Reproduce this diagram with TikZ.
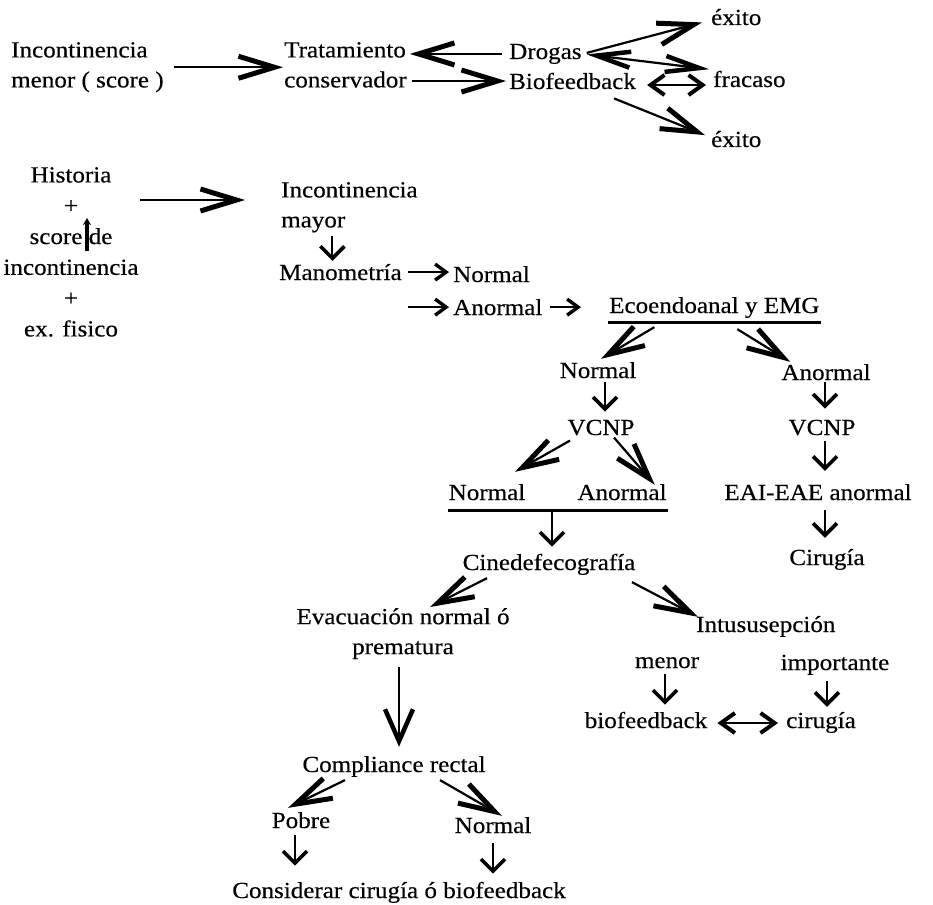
\documentclass[tikz,border=0pt]{standalone}
\usepackage{fontspec}
\setmainfont{Liberation Serif}[FakeStretch=1.09,FakeBold=0.4]
\usetikzlibrary{arrows.meta}

\begin{document}
\begin{tikzpicture}[x=1pt,y=-1pt,
    every node/.style={font=\fontsize{23}{30}\selectfont,inner sep=1pt},
    bigarr/.style={line width=2.2pt,-{Straight Barb[length=36pt,width=22pt,line width=5pt]}},
    longarr/.style={line width=2.2pt,-{Straight Barb[length=32pt,width=28pt,line width=4.5pt]}},
    midarr/.style={line width=2pt,-{Straight Barb[length=12pt,width=24pt,line width=3.6pt]}},
    smallarr/.style={line width=1.8pt,-{Straight Barb[length=11pt,width=16pt,line width=3.4pt]}},
    dblarr/.style={line width=1.8pt,{Straight Barb[length=14pt,width=20pt,line width=4pt]}-{Straight Barb[length=14pt,width=20pt,line width=4pt]}},
    twinarr/.style={line width=2.2pt,{Straight Barb[length=34pt,width=16pt,line width=4.5pt]}-{Straight Barb[length=34pt,width=16pt,line width=4.5pt]}},
    barline/.style={line width=3pt}]
  \useasboundingbox (0,0) rectangle (933,904);

  % Incontinencia menor: tratamiento conservador
  \node[anchor=north west,align=left] (minor) at (10,41) {Incontinencia\\menor ( score )};
  \node[anchor=north west,align=left] (trat) at (283,41) {Tratamiento\\conservador};
  \node[anchor=base west] (drog) at (508,59) {Drogas};
  \node[anchor=base west] (biof) at (508,89) {Biofeedback};
  \node[anchor=base west] (exi1) at (710,25) {éxito};
  \node[anchor=base west] (frac) at (712,87) {fracaso};
  \node[anchor=base west] (exi2) at (710,147) {éxito};

  \draw[bigarr,shorten <=9pt] (minor.east) -- (minor.east -| trat.west);
  \draw[bigarr,shorten <=6pt,shorten >=2pt] (drog.west) -- (drog.west -| trat.east);
  \draw[bigarr,shorten <=4pt,shorten >=2pt] (trat.east |- biof.west) -- (biof.west);
  \draw[bigarr,shorten <=4pt] (drog.east) -- ([xshift=-8pt,yshift=4pt]exi1.south west);
  \draw[twinarr,shorten <=4pt,shorten >=3pt] (drog.east) -- (frac.north west);
  \draw[dblarr] ([xshift=10pt,yshift=-4pt]biof.east) -- ([xshift=-6pt,yshift=-4pt]biof.east -| frac.west);
  \draw[bigarr] ([xshift=-23pt,yshift=-8pt]biof.south east) -- ([xshift=-5pt,yshift=4pt]exi2.west);

  % Incontinencia mayor
  \node[anchor=north,align=center,font=\fontsize{23}{30.8}\selectfont] (hist) at (71,166)
    {Historia\\+\\score de\\incontinencia\\+\\ex. fisico};
  \coordinate (blot) at (87,251);
  \draw[line width=4pt,-{Stealth[length=7pt,width=8pt]}] (blot) -- ([yshift=33pt]blot);

  \node[anchor=north west,align=left] (imay) at (280,181) {Incontinencia\\mayor};
  \node[anchor=base west] (mano) at (278,280) {Manometría};
  \node[anchor=base west] (norm0) at (452,282) {Normal};
  \node[anchor=base west] (anor0) at (452,315) {Anormal};
  \node[anchor=base west] (eco) at (608,313) {Ecoendoanal y EMG};

  \draw[bigarr] ([yshift=-34pt]hist.north east) -- ([xshift=-35pt,yshift=-34pt]hist.north east -| imay.west);
  \draw[midarr,shorten <=2pt,shorten >=2pt] ([xshift=-8pt]mano.north |- imay.south) -- ([xshift=-8pt]mano.north);
  \draw[smallarr,shorten <=5pt,shorten >=3pt] (mano.east) -- (mano.east -| norm0.west);
  \draw[smallarr,shorten <=5pt,shorten >=3pt] (mano.east |- anor0.west) -- (anor0.west);
  \draw[smallarr,shorten <=6pt,shorten >=27pt] (anor0.east) -- (anor0.east -| eco.west);
  \draw[barline] ([yshift=-3pt]eco.south west) -- ([yshift=-3pt]eco.south east);

  % Ecoendoanal y EMG
  \node[anchor=base] (nrm1) at (598,378) {Normal};
  \node[anchor=base] (ano1) at (826,380) {Anormal};
  \node[anchor=base] (vc1) at (601,435) {VCNP};
  \node[anchor=base] (vc2) at (822,435) {VCNP};
  \node[anchor=base] (nrm2) at (487,500) {Normal};
  \node[anchor=base] (ano2) at (622,500) {Anormal};
  \node[anchor=base] (eai) at (818,500) {EAI-EAE anormal};
  \node[anchor=base] (cir) at (827,565) {Cirugía};

  \draw[bigarr] ([xshift=-60pt,yshift=-8pt]eco.south) -- ([xshift=3pt,yshift=2pt]nrm1.north);
  \draw[bigarr] ([xshift=23pt,yshift=-10pt]eco.south) -- ([xshift=10pt,yshift=1pt]ano1.north west);
  \draw[midarr,shorten <=3pt,shorten >=7pt] ([xshift=4pt]vc1.north |- nrm1.south) -- ([xshift=4pt]vc1.north);
  \draw[midarr,shorten <=1pt,shorten >=10pt] ([xshift=3pt]vc2.north |- ano1.south) -- ([xshift=3pt]vc2.north);
  \draw[midarr,shorten <=4pt,shorten >=12pt] ([xshift=3pt]vc2.south) -- ([xshift=3pt]vc2.south |- eai.north);
  \draw[midarr,shorten <=9pt,shorten >=10pt] ([xshift=-2pt]cir.north |- eai.south) -- ([xshift=-2pt]cir.north);
  \draw[bigarr] ([xshift=-31pt,yshift=-4pt]vc1.south) -- ([xshift=28pt,yshift=11pt]nrm2.north);
  \draw[bigarr] ([xshift=13pt,yshift=-1pt]vc1.south) -- ([xshift=-13pt,yshift=-2pt]ano2.north east);
  \draw[barline] ([yshift=-9pt]nrm2.south west) coordinate (barL) -- ([yshift=-9pt]nrm2.south west -| ano2.south east);

  % Cinedefecografia
  \node[anchor=base] (cine) at (549,570) {Cinedefecografía};
  \node[anchor=north,align=center] (evac) at (403,607) {Evacuación normal ó\\prematura};
  \node[anchor=base west] (intu) at (695,632) {Intususepción};
  \node[anchor=base] (meno) at (667,668) {menor};
  \node[anchor=base] (impo) at (835,670) {importante};
  \node[anchor=base] (bio) at (646,728) {biofeedback};
  \node[anchor=base] (cirg) at (821,728) {cirugía};

  \draw[midarr,shorten >=6pt] ([xshift=3pt]cine.north |- barL) -- ([xshift=3pt]cine.north);
  \draw[bigarr] ([xshift=-62pt,yshift=-2pt]cine.south) -- ([xshift=27pt]evac.north);
  \draw[bigarr] ([xshift=83pt,yshift=-6pt]cine.south) -- ([xshift=3pt,yshift=-2pt]intu.north west);
  \draw[midarr,shorten <=5pt,shorten >=6pt] ([xshift=-2pt]meno.south) -- ([xshift=-2pt]meno.south |- bio.north);
  \draw[midarr,shorten <=5pt,shorten >=4pt] ([xshift=-8pt]impo.south) -- ([xshift=-8pt]impo.south |- cirg.north);
  \draw[dblarr] ([xshift=9pt,yshift=-3pt]bio.east) -- ([xshift=-7pt,yshift=-3pt]bio.east -| cirg.west);

  % Compliance rectal
  \node[anchor=base] (comp) at (394,772) {Compliance rectal};
  \node[anchor=base] (pobr) at (301,828) {Pobre};
  \node[anchor=base] (nrm3) at (493,833) {Normal};
  \node[anchor=base] (cons) at (399,898) {Considerar cirugía ó biofeedback};

  \draw[longarr,shorten <=7pt,shorten >=8pt] ([xshift=-4pt]evac.south) -- ([xshift=-4pt]evac.south |- comp.north);
  \draw[bigarr] ([xshift=-49pt,yshift=-2pt]comp.south) -- ([xshift=-13pt,yshift=3pt]pobr.north);
  \draw[bigarr] ([xshift=46pt,yshift=-2pt]comp.south) -- ([xshift=9pt]nrm3.north);
  \draw[midarr,shorten <=6pt,shorten >=15pt] ([xshift=-6pt]pobr.south) -- ([xshift=-6pt]pobr.south |- cons.north);
  \draw[midarr,shorten <=9pt,shorten >=7pt] (nrm3.south) -- (nrm3.south |- cons.north);
\end{tikzpicture}
\end{document}
